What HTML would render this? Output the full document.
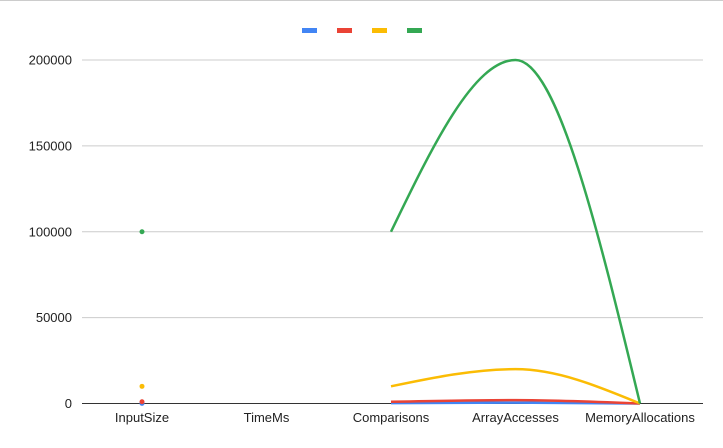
<!DOCTYPE html>
<html><head><meta charset="utf-8"><style>
body{margin:0;background:#fff;}
svg text{font-family:"Liberation Sans",Arial,sans-serif;font-size:13px;fill:#222;}
</style></head><body>
<svg id="chart" width="723" height="443" viewBox="0 0 723 443" xmlns="http://www.w3.org/2000/svg">
<rect x="0" y="0" width="723" height="1" fill="#ccc"/>
<g id="grid"></g>
<g id="series"></g>
<g id="labels"></g>
<g id="legend"></g>
</svg>
<script>
const categories = ["InputSize","TimeMs","Comparisons","ArrayAccesses","MemoryAllocations"];
const seriesBlue = [100, null, 200, 500, 0];
const seriesRed = [1000, null, 1000, 2000, 0];
const seriesYellow = [10000, null, 10000, 20000, 0];
const seriesGreen = [100000, null, 100000, 200000, 0];
const yTicks = [0, 50000, 100000, 150000, 200000];

const NS = "http://www.w3.org/2000/svg";
const x0 = 142, step = 124.5, yBase = 403.5, yTop = 60, yMax = 200000;
function xScale(i){ return x0 + i*step; }
function yScale(v){ return yBase - (v/yMax)*(yBase-yTop); }
function mk(tag, attrs, parent){ const e=document.createElementNS(NS,tag); for(const k in attrs) e.setAttribute(k,attrs[k]); parent.appendChild(e); return e; }

const grid=document.getElementById('grid'), labels=document.getElementById('labels');
yTicks.forEach(t=>{
  const y=yScale(t);
  const l=mk('line',{x1:82,x2:703,y1:y,y2:y,stroke:t===0?'#333':'#ccc','stroke-width':1},grid);
  
  
  const tx=mk('text',{x:72,y:y+4.5,'text-anchor':'end'},labels);
  tx.textContent=t;
  
  
});
categories.forEach((c,i)=>{
  const tx=mk('text',{x:xScale(i),y:422,'text-anchor':'middle'},labels);
  tx.textContent=c;
  
  
});

const sg=document.getElementById('series');
const all=[[seriesBlue,'#4285f4','blue'],[seriesRed,'#ea4335','red'],[seriesYellow,'#fbbc04','yellow'],[seriesGreen,'#34a853','green']];
function segPath(pts){
  const n=pts.length, sec=[], m=new Array(n).fill(0);
  for(let i=0;i<n-1;i++) sec.push((pts[i+1][1]-pts[i][1])/(pts[i+1][0]-pts[i][0]));
  for(let i=1;i<n-1;i++){
    m[i] = sec[i-1]*sec[i]<=0 ? 0 : (sec[i-1]+sec[i])/2;
  }
  if(n===2){ m[0]=sec[0]; m[1]=sec[0]; }
  else { m[0]=(3*sec[0]-m[1])/2; m[n-1]=(3*sec[n-2]-m[n-2])/2; }
  let d='M'+pts[0][0]+','+pts[0][1];
  for(let i=0;i<n-1;i++){
    const dx=(pts[i+1][0]-pts[i][0])/3;
    d+=' C'+(pts[i][0]+dx)+','+(pts[i][1]+m[i]*dx)+' '+(pts[i+1][0]-dx)+','+(pts[i+1][1]-m[i+1]*dx)+' '+pts[i+1][0]+','+pts[i+1][1];
  }
  return d;
}
all.forEach(([vals,col,nm])=>{
  let segs=[],cur=[];
  vals.forEach((v,i)=>{ if(v===null){ if(cur.length) segs.push(cur); cur=[]; } else cur.push([xScale(i),yScale(v)]); });
  if(cur.length) segs.push(cur);
  segs.forEach(s=>{
    if(s.length===1){
      const c=mk('circle',{cx:s[0][0],cy:s[0][1],r:2.5,fill:col},sg);
      
      
    } else {
      const p=mk('path',{d:segPath(s),fill:'none',stroke:col,'stroke-width':2.5},sg);
      
      
    }
  });
});
const lg=document.getElementById('legend');
all.forEach(([v,col,nm],i)=>{
  const r=mk('rect',{x:302+i*35,y:28,width:15,height:5,fill:col},lg);
  
  
});
</script>
</body></html>
